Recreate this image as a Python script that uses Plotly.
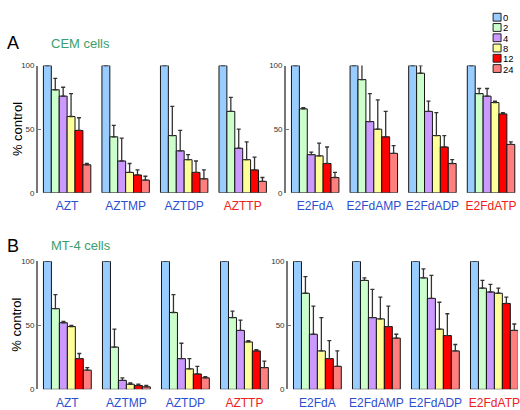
import plotly.graph_objects as go

# ---------------- data ----------------
doses = ["0", "2", "4", "8", "12", "24"]
dose_colors = ["#99CCFF", "#CCFFCC", "#CC99FF", "#FFFF99", "#FF0000", "#FF7F7F"]

cats_left = ["AZT", "AZTMP", "AZTDP", "AZTTP"]
cats_right = ["E2FdA", "E2FdAMP", "E2FdADP", "E2FdATP"]
label_colors = ["#2b4fcf", "#2b4fcf", "#2b4fcf", "#ee2020"]

# rows = compound, columns = dose (0, 2, 4, 8, 12, 24)
cem_left_vals = [[100, 81, 76, 60, 49, 22],
                 [100, 44, 25, 16, 14, 10],
                 [100, 45, 33, 26, 16, 11],
                 [100, 64, 35, 26, 18, 9]]
cem_left_err = [[0, 9, 7, 18, 10, 1],
                [0, 9, 18, 7, 4, 3],
                [0, 23, 16, 4, 9, 7],
                [0, 11, 15, 14, 10, 3]]
cem_right_vals = [[100, 66, 30, 29, 23, 12],
                  [100, 89, 56, 50, 44, 31],
                  [100, 94, 64, 45, 36, 23],
                  [100, 78, 76, 71, 62, 38]]
cem_right_err = [[0, 1, 2, 10, 13, 4],
                 [0, 12, 22, 23, 20, 6],
                 [0, 6, 8, 18, 9, 3],
                 [0, 4, 6, 1, 1, 2]]
mt4_left_vals = [[100, 63, 52, 49, 24, 15],
                 [100, 33, 7, 4, 3, 2],
                 [100, 60, 24, 16, 12, 9],
                 [100, 56, 46, 37, 30, 17]]
mt4_left_err = [[0, 11, 1, 1, 4, 2],
                [0, 14, 2, 1, 1, 1],
                [0, 14, 12, 8, 6, 1],
                [0, 5, 8, 1, 1, 5]]
mt4_right_vals = [[100, 75, 43, 30, 24, 18],
                  [100, 85, 56, 55, 49, 40],
                  [100, 87, 71, 47, 42, 30],
                  [100, 79, 76, 75, 67, 46]]
mt4_right_err = [[0, 13, 22, 26, 14, 12],
                 [0, 2, 22, 17, 16, 3],
                 [0, 7, 18, 21, 17, 5],
                 [0, 6, 6, 4, 5, 5]]

panel_titles = ["A", "B"]
cell_titles = ["CEM cells", "MT-4 cells"]
y_title = "% control"

FONT = "Arial, Liberation Sans, sans-serif"
W, H = 520, 410

fig = go.Figure()

panels = [
    (cem_left_vals, cem_left_err, cats_left, "x", "y"),
    (cem_right_vals, cem_right_err, cats_right, "x2", "y2"),
    (mt4_left_vals, mt4_left_err, cats_left, "x3", "y3"),
    (mt4_right_vals, mt4_right_err, cats_right, "x4", "y4"),
]

for vals, errs, cats, xa, ya in panels:
    for j, d in enumerate(doses):
        fig.add_trace(go.Bar(
            x=cats,
            y=[row[j] for row in vals],
            name=d,
            xaxis=xa, yaxis=ya,
            showlegend=False,
            cliponaxis=False,
            marker=dict(color=dose_colors[j], line=dict(color="#151515", width=1)),
            error_y=dict(type="data", symmetric=False,
                         array=[row[j] for row in errs],
                         arrayminus=[0] * len(cats),
                         color="#333333", thickness=1.3, width=2),
        ))


def px_x(p):
    return p / W


def px_y(p):
    return 1 - p / H


# axis geometry (pixels)
xdoms = {
    "xaxis": ([px_x(38), px_x(273)], [-0.5, 3.5]),
    "xaxis2": ([px_x(287), 1.0], [-0.5, 3.46]),
    "xaxis3": ([px_x(38), px_x(275)], [-0.5, 3.5]),
    "xaxis4": ([px_x(289), 1.0], [-0.5, 3.4]),
}
ydomA = [px_y(193), px_y(63)]
ydomB = [px_y(394), px_y(263)]

layout = dict(
    width=W, height=H,
    margin=dict(l=0, r=0, t=0, b=0),
    paper_bgcolor="white", plot_bgcolor="white",
    barmode="group", bargap=0.19, bargroupgap=0,
    font=dict(family=FONT, color="#000"),
    showlegend=False,
)

pairs = [("xaxis", "y", cats_left), ("xaxis2", "y2", cats_right),
         ("xaxis3", "y3", cats_left), ("xaxis4", "y4", cats_right)]
for xk, yanchor, cats in pairs:
    dom, rng = xdoms[xk]
    layout[xk] = dict(
        domain=dom, range=rng, anchor=yanchor, type="category",
        showline=False, showgrid=False, zeroline=False,
        ticks="outside", ticklen=2, tickcolor="rgba(0,0,0,0)",
        tickvals=cats,
        ticktext=[f'<span style="color:{c}">{t}</span>' for t, c in zip(cats, label_colors)],
        tickfont=dict(size=12, family=FONT),
    )

for yk, xanchor, dom in [("yaxis", "x", ydomA), ("yaxis2", "x2", ydomA),
                         ("yaxis3", "x3", ydomB), ("yaxis4", "x4", ydomB)]:
    layout[yk] = dict(
        domain=dom, range=[0, 100], anchor=xanchor,
        showline=True, linecolor="#777777", linewidth=1.5,
        ticks="inside", ticklen=3, tickcolor="#777777",
        tickvals=[0, 50, 100], ticktext=["0", "50", "100"],
        tickfont=dict(size=8, color="#333333", family=FONT),
        showgrid=False, zeroline=False,
    )

fig.update_layout(**layout)

# panel letters, cell titles, y titles
for i, (ypx, ycen) in enumerate([(40, 128), (247, 328)]):
    fig.add_annotation(text=panel_titles[i], xref="paper", yref="paper",
                       x=px_x(13), y=px_y(ypx), xanchor="center", yanchor="middle",
                       showarrow=False,
                       font=dict(size=18, color="#000", family=FONT))
    fig.add_annotation(text=cell_titles[i], xref="paper", yref="paper",
                       x=px_x(49), y=px_y(ypx), xanchor="left", yanchor="middle",
                       showarrow=False,
                       font=dict(size=13, color="#3a9e6e", family=FONT))
    fig.add_annotation(text=y_title, xref="paper", yref="paper",
                       x=px_x(17), y=px_y(ycen), xanchor="center", yanchor="middle",
                       textangle=-90, showarrow=False,
                       font=dict(size=13, color="#000", family=FONT))

# compact legend (top right)
for j, d in enumerate(doses):
    yc = 13.5 + 10.5 * j
    fig.add_shape(type="rect", xref="paper", yref="paper",
                  x0=px_x(495), x1=px_x(503), y0=px_y(yc + 4), y1=px_y(yc - 4),
                  fillcolor=dose_colors[j], line=dict(color="#222", width=1))
    fig.add_annotation(text=d, xref="paper", yref="paper",
                       x=px_x(504), y=px_y(yc), xanchor="left", yanchor="middle",
                       showarrow=False, borderpad=0, height=10,
                       font=dict(size=9.5, color="#000", family=FONT))

fig.write_html(
    "out.html",
    config={"displayModeBar": False},
    post_script="document.body.style.margin='0';document.body.style.overflow='hidden';",
)
